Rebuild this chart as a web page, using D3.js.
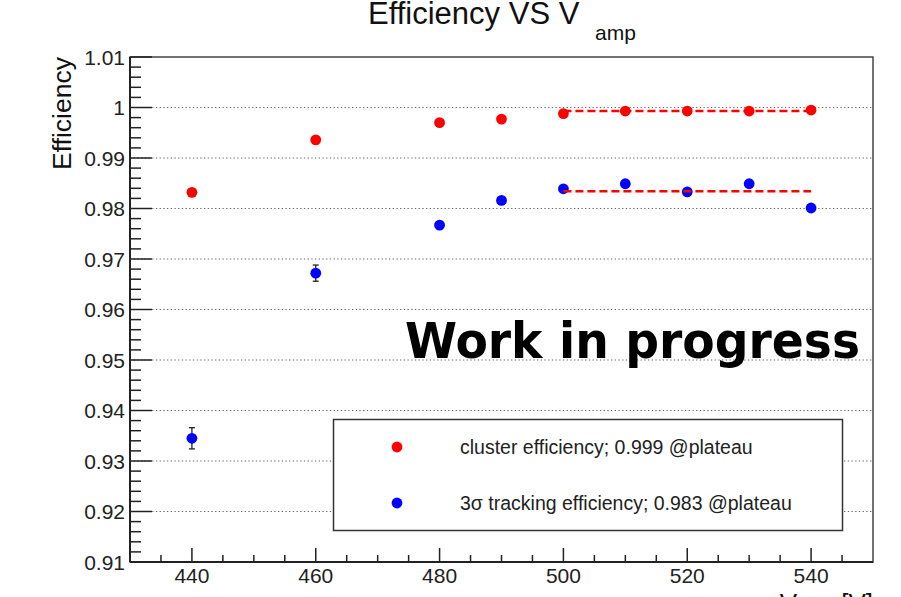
<!DOCTYPE html>
<html>
<head>
<meta charset="utf-8">
<script src="https://cdn.jsdelivr.net/npm/d3@7"></script>
<style>
  body { margin: 0; background: #fff; }
  svg { display: block; font-family: "Liberation Sans", Arial, sans-serif; }
</style>
</head>
<body>
<svg width="901" height="597"></svg>
<script>
// data
var voltages = [440, 460, 480, 490, 500, 510, 520, 530, 540];
var clusterEff = [0.9832, 0.9936, 0.9970, 0.9977, 0.9988, 0.9993, 0.9993, 0.9993, 0.9995];
var clusterErr = [0.0003, 0.0002, 0.0001, 0.0001, 0.0001, 0.0001, 0.0001, 0.0001, 0.0001];
var trackingEff = [0.9345, 0.9672, 0.9767, 0.9816, 0.9839, 0.9849, 0.9833, 0.9849, 0.9801];
var trackingErr = [0.0021, 0.0016, 0.0005, 0.0004, 0.0003, 0.0003, 0.0003, 0.0003, 0.0003];
var plateauRange = [500, 540];
var plateauCluster = 0.9993;
var plateauTracking = 0.9834;
var yTicks = [0.91, 0.92, 0.93, 0.94, 0.95, 0.96, 0.97, 0.98, 0.99, 1, 1.01];
var xTicks = [440, 460, 480, 500, 520, 540];
var legendLabels = ["cluster efficiency; 0.999 @plateau", "3\u03c3 tracking efficiency; 0.983 @plateau"];

var svg = d3.select("svg"),
    margin = {top: 57, right: 28, bottom: 35, left: 130},
    width = +svg.attr("width") - margin.left - margin.right,
    height = +svg.attr("height") - margin.top - margin.bottom;

var x = d3.scaleLinear().domain([430, 550]).range([0, width]),
    y = d3.scaleLinear().domain([0.91, 1.01]).range([height, 0]);

var g = svg.append("g")
    .attr("transform", "translate(" + margin.left + "," + margin.top + ")");

// dotted grid on major y ticks
g.selectAll(".grid").data(yTicks.slice(1, -1)).enter().append("line")
    .attr("class", "grid")
    .attr("x1", 0).attr("x2", width)
    .attr("y1", function(d) { return y(d); })
    .attr("y2", function(d) { return y(d); })
    .attr("stroke", "#666")
    .attr("stroke-width", 1.2)
    .attr("stroke-dasharray", "1.3,2.4");

// frame
g.append("rect")
    .attr("width", width).attr("height", height)
    .attr("fill", "none").attr("stroke", "#444").attr("stroke-width", 1.5);

// y axis: ticks pointing inward
var yMinor = d3.range(0, 51).map(function(i) { return 0.91 + i * 0.002; });
g.selectAll(".ytick").data(yMinor).enter().append("line")
    .attr("x1", 0)
    .attr("x2", function(d, i) { return i % 5 === 0 ? 22 : 11; })
    .attr("y1", function(d) { return y(d); })
    .attr("y2", function(d) { return y(d); })
    .attr("stroke", "#222").attr("stroke-width", 1.5);

g.selectAll(".ylabel").data(yTicks).enter().append("text")
    .attr("x", -5)
    .attr("y", function(d) { return y(d); })
    .attr("dy", "0.36em")
    .attr("text-anchor", "end")
    .attr("font-size", 21)
    .attr("fill", "#222")
    .text(function(d) { return d3.format("")(+d.toFixed(2)); });

// x axis: ticks pointing upward
var xMinor = d3.range(435, 550, 5);
g.selectAll(".xtick").data(xMinor).enter().append("line")
    .attr("x1", function(d) { return x(d); })
    .attr("x2", function(d) { return x(d); })
    .attr("y1", height)
    .attr("y2", function(d) { return d % 20 === 0 ? height - 14 : height - 7; })
    .attr("stroke", "#222").attr("stroke-width", 1.5);

g.selectAll(".xlabel").data(xTicks).enter().append("text")
    .attr("x", function(d) { return x(d); })
    .attr("y", height + 21)
    .attr("text-anchor", "middle")
    .attr("font-size", 21)
    .attr("fill", "#222")
    .text(function(d) { return d; });

g.append("line")
    .attr("x1", 0).attr("x2", 0).attr("y1", 0).attr("y2", height)
    .attr("stroke", "#222").attr("stroke-width", 2);
g.append("line")
    .attr("x1", 0).attr("x2", width).attr("y1", height).attr("y2", height)
    .attr("stroke", "#222").attr("stroke-width", 2);

// axis titles
svg.append("text")
    .attr("transform", "translate(71," + margin.top + ") rotate(-90)")
    .attr("text-anchor", "end")
    .attr("font-size", 26.5)
    .attr("fill", "#111")
    .text("Efficiency");

var xt = svg.append("text")
    .attr("x", margin.left + width)
    .attr("y", 612)
    .attr("text-anchor", "end")
    .attr("font-size", 26)
    .attr("fill", "#111");
xt.append("tspan").text("V");
xt.append("tspan").attr("font-size", 19).attr("dy", 7).text("amp");
xt.append("tspan").attr("dy", -7).text(" [V]");

// title
var title = svg.append("text")
    .attr("x", 368)
    .attr("y", 24)
    .attr("font-size", 31)
    .attr("fill", "#111");
title.append("tspan").text("Efficiency VS V");
title.append("tspan").attr("x", 595).attr("y", 40).attr("font-size", 21).text("amp");

// series
var series = [
  {vals: clusterEff, errs: clusterErr, color: "#ff0000"},
  {vals: trackingEff, errs: trackingErr, color: "#0000ff"}
];

series.forEach(function(s) {
  var pts = voltages.map(function(v, i) { return {x: v, y: s.vals[i], e: s.errs[i]}; });
  var eb = g.selectAll(null).data(pts).enter().append("g").attr("stroke", "#222").attr("stroke-width", 1.3);
  eb.append("line")
      .attr("x1", function(d) { return x(d.x); }).attr("x2", function(d) { return x(d.x); })
      .attr("y1", function(d) { return y(d.y - d.e); }).attr("y2", function(d) { return y(d.y + d.e); });
  eb.append("line")
      .attr("x1", function(d) { return x(d.x) - 3; }).attr("x2", function(d) { return x(d.x) + 3; })
      .attr("y1", function(d) { return y(d.y - d.e); }).attr("y2", function(d) { return y(d.y - d.e); });
  eb.append("line")
      .attr("x1", function(d) { return x(d.x) - 3; }).attr("x2", function(d) { return x(d.x) + 3; })
      .attr("y1", function(d) { return y(d.y + d.e); }).attr("y2", function(d) { return y(d.y + d.e); });
  g.selectAll(null).data(pts).enter().append("circle")
      .attr("cx", function(d) { return x(d.x); })
      .attr("cy", function(d) { return y(d.y); })
      .attr("r", 5.4)
      .attr("fill", s.color);
});

// plateau fits
[plateauCluster, plateauTracking].forEach(function(p) {
  g.append("line")
      .attr("x1", x(plateauRange[0])).attr("x2", x(plateauRange[1]))
      .attr("y1", y(p)).attr("y2", y(p))
      .attr("stroke", "#ff0000")
      .attr("stroke-width", 2.5)
      .attr("stroke-dasharray", "8,4");
});

// work in progress
svg.append("text")
    .attr("x", 405)
    .attr("y", 358)
    .attr("font-family", "DejaVu Sans, Verdana, sans-serif")
    .attr("font-weight", "bold")
    .attr("font-size", 49)
    .attr("textLength", 455)
    .attr("lengthAdjust", "spacingAndGlyphs")
    .attr("fill", "#000")
    .text("Work in progress");

// legend
var legend = svg.append("g");
legend.append("rect")
    .attr("x", 333.5).attr("y", 419.5)
    .attr("width", 509).attr("height", 111)
    .attr("fill", "#fff").attr("stroke", "#333").attr("stroke-width", 1.5);
var lg = legend.selectAll(".leg").data(legendLabels).enter().append("g")
    .attr("transform", function(d, i) { return "translate(0," + (447 + i * 56) + ")"; });
lg.append("circle").attr("cx", 397).attr("r", 5.4)
    .attr("fill", function(d, i) { return series[i].color; });
lg.append("text")
    .attr("x", 460)
    .attr("dy", "0.35em")
    .attr("font-size", 19.5)
    .attr("fill", "#222")
    .text(function(d) { return d; });
</script>
</body>
</html>
